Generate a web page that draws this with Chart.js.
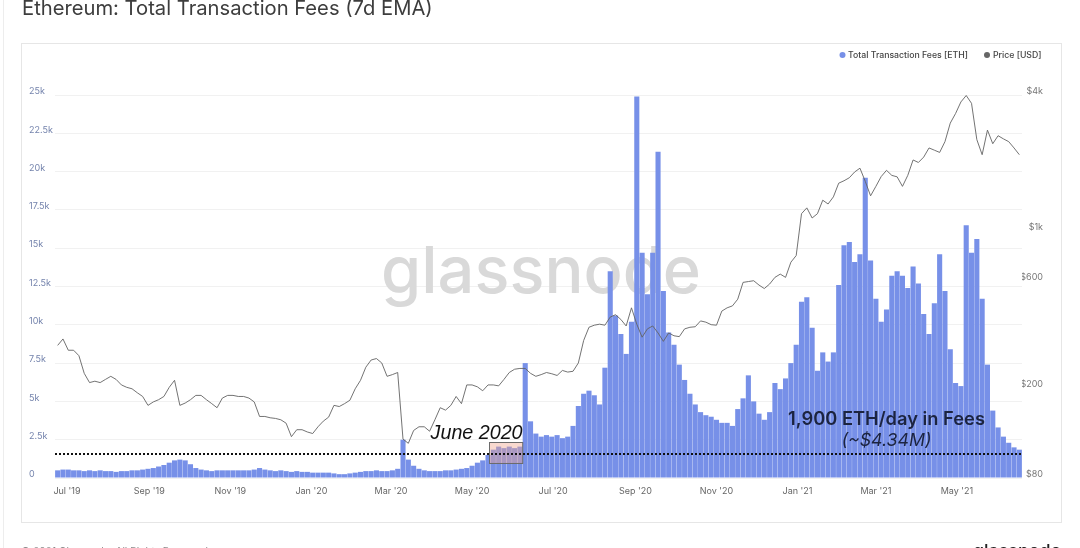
<!DOCTYPE html>
<html>
<head>
<meta charset="utf-8">
<title>Ethereum: Total Transaction Fees (7d EMA)</title>
<script src="https://cdn.jsdelivr.net/npm/chart.js@4.4.0/dist/chart.umd.min.js"></script>
<style>
  html, body { margin: 0; padding: 0; background: #fff; }
  #wrap { position: relative; width: 1080px; height: 548px; }
</style>
</head>
<body>
<div id="wrap"><canvas id="feesChart" width="1080" height="548"></canvas></div>
<script>
// one point every 4 days, starting 24 Jun 2019
const startDate = '2019-06-24';
const stepDays = 4;

// Total Transaction Fees, 7d EMA, in thousands of ETH
const feesK = [
  0.5, 0.55, 0.55, 0.5, 0.5, 0.45, 0.5, 0.45, 0.5, 0.45,
  0.45, 0.4, 0.45, 0.45, 0.5, 0.5, 0.55, 0.6, 0.65, 0.75,
  0.85, 1.0, 1.15, 1.2, 1.15, 0.9, 0.65, 0.55, 0.5, 0.45,
  0.5, 0.5, 0.5, 0.5, 0.5, 0.5, 0.5, 0.55, 0.65, 0.55,
  0.5, 0.45, 0.5, 0.45, 0.4, 0.45, 0.4, 0.4, 0.35, 0.35,
  0.35, 0.35, 0.3, 0.25, 0.25, 0.3, 0.35, 0.4, 0.45, 0.45,
  0.5, 0.45, 0.45, 0.5, 0.6, 2.5, 1.2, 0.8, 0.6, 0.5,
  0.45, 0.45, 0.45, 0.5, 0.5, 0.55, 0.6, 0.65, 0.8, 1.0,
  1.15, 1.5, 1.85, 2.05, 1.95, 2.05, 1.95, 2.05, 7.5, 3.7,
  2.9, 2.7, 2.8, 2.7, 2.8, 2.6, 2.7, 3.4, 4.7, 5.5,
  5.7, 5.4, 4.8, 7.2, 13.5, 10.6, 9.4, 8.1, 10.2, 24.9,
  14.7, 12.0, 14.7, 21.3, 12.2, 9.5, 8.7, 7.4, 6.4, 5.5,
  4.8, 4.3, 4.1, 4.0, 3.8, 3.6, 3.6, 3.4, 4.5, 5.2,
  6.7, 5.0, 4.2, 3.8, 4.3, 6.2, 5.8, 6.5, 7.5, 8.7,
  11.5, 11.8, 9.8, 7.0, 8.2, 7.6, 8.2, 12.6, 15.2, 15.4,
  14.1, 14.6, 19.6, 14.2, 11.7, 10.2, 11.0, 13.2, 13.5, 13.2,
  12.4, 13.8, 12.7, 10.7, 9.4, 11.4, 14.6, 12.2, 8.4, 6.2,
  6.0, 16.5, 14.7, 15.6, 11.7, 7.4, 4.4, 3.3, 2.7, 2.3,
  2.0, 1.85
];

// ETH price in USD (log axis)
const priceUsd = [
  310, 331, 295, 295, 279, 233, 212, 215, 212, 219,
  226, 219, 207, 202, 199, 191, 184, 168, 174, 178,
  184, 202, 217, 168, 172, 178, 186, 186, 178, 171,
  164, 181, 186, 186, 184, 184, 181, 174, 150, 150,
  148, 147, 145, 140, 122, 131, 131, 128, 126, 135,
  143, 149, 168, 166, 171, 177, 199, 217, 248, 267,
  271, 259, 226, 230, 235, 119, 114, 130, 135, 135,
  129, 145, 164, 160, 168, 184, 171, 207, 207, 203,
  195, 207, 207, 205, 219, 235, 243, 245, 245, 233,
  226, 230, 235, 232, 228, 240, 236, 238, 259, 326,
  373, 381, 385, 381, 414, 424, 404, 378, 455, 385,
  337, 367, 378, 352, 323, 352, 342, 339, 367, 373,
  375, 398, 393, 383, 381, 440, 455, 464, 497, 590,
  595, 600, 574, 554, 580, 621, 642, 621, 725, 776,
  1190, 1263, 1139, 1190, 1366, 1314, 1413, 1625, 1666, 1718,
  1822, 1894, 1656, 1428, 1573, 1739, 1853, 1760, 1734, 1573,
  1760, 2060, 2008, 2122, 2329, 2277, 2225, 2484, 3002, 3312,
  3726, 3980, 3674, 2536, 2174, 2795, 2432, 2639, 2556, 2484,
  2329, 2174
];

const monthTicks = ['2019-07-01', '2019-09-01', '2019-11-01', '2020-01-01', '2020-03-01', '2020-05-01',
                    '2020-07-01', '2020-09-01', '2020-11-01', '2021-01-01', '2021-03-01', '2021-05-01'];
const monthLabels = ["Jul '19", "Sep '19", "Nov '19", "Jan '20", "Mar '20", "May '20",
                     "Jul '20", "Sep '20", "Nov '20", "Jan '21", "Mar '21", "May '21"];

const feeTicksK = [0, 2.5, 5, 7.5, 10, 12.5, 15, 17.5, 20, 22.5, 25];
const priceTicks = [80, 200, 600, 1000, 4000];
const priceTickLabels = ['$80', '$200', '$600', '$1k', '$4k'];

// annotations drawn on top (days since startDate / thousands of ETH)
const thresholdK = 1.57;
const juneBoxDays = [325, 350];
const juneBoxK = [0.98, 2.35];

const family = 'Inter, "Noto Sans", sans-serif';

function dayOffset(d) {
  return (Date.parse(d) - Date.parse(startDate)) / 86400000;
}

function fitFont(ctx, text, style, family, width) {
  ctx.font = style + ' 100px ' + family;
  const size = 100 * width / ctx.measureText(text).width;
  return style + ' ' + size.toFixed(2) + 'px ' + family;
}

const pagePlugin = {
  id: 'page',
  beforeDraw(chart) {
    const ctx = chart.ctx;
    ctx.save();
    ctx.fillStyle = '#fff';
    ctx.fillRect(0, 0, chart.width, chart.height);

    // page edge and chart card
    ctx.strokeStyle = '#ededed';
    ctx.lineWidth = 1;
    ctx.beginPath();
    ctx.moveTo(3.5, 0);
    ctx.lineTo(3.5, chart.height);
    ctx.stroke();
    ctx.strokeStyle = '#e6e6e6';
    ctx.strokeRect(21.5, 43.5, 1040, 479);

    // title
    ctx.fillStyle = '#3d3d3d';
    ctx.textBaseline = 'alphabetic';
    ctx.font = fitFont(ctx, 'Ethereum: Total Transaction Fees (7d EMA)', '400', family, 411);
    ctx.fillText('Ethereum: Total Transaction Fees (7d EMA)', 22, 15);

    // footer
    ctx.fillStyle = '#8a8a8a';
    ctx.font = fitFont(ctx, '© 2021 Glassnode. All Rights Reserved.', '400', family, 190);
    ctx.fillText('© 2021 Glassnode. All Rights Reserved.', 21, 555);
    ctx.fillStyle = '#222';
    ctx.font = fitFont(ctx, 'glassnode', '500', family, 88);
    ctx.fillText('glassnode', 973, 557);
    ctx.restore();
  },
  beforeDatasetsDraw(chart) {
    // watermark behind the data
    const ctx = chart.ctx;
    ctx.save();
    ctx.fillStyle = '#d9d9d9';
    ctx.textBaseline = 'alphabetic';
    ctx.font = fitFont(ctx, 'glassnode', '500', family, 320);
    ctx.fillText('glassnode', 381, 293);
    ctx.restore();
  },
  afterDatasetsDraw(chart) {
    const ctx = chart.ctx;
    const { x, y } = chart.scales;
    const area = chart.chartArea;
    ctx.save();

    // June 2020 box
    const bx0 = x.getPixelForValue(juneBoxDays[0]);
    const bx1 = x.getPixelForValue(juneBoxDays[1]);
    const by0 = y.getPixelForValue(juneBoxK[1]);
    const by1 = y.getPixelForValue(juneBoxK[0]);
    ctx.fillStyle = 'rgba(240, 165, 140, 0.42)';
    ctx.fillRect(bx0, by0, bx1 - bx0, by1 - by0);
    ctx.strokeStyle = '#6b6b6b';
    ctx.lineWidth = 1;
    ctx.strokeRect(Math.round(bx0) + 0.5, Math.round(by0) + 0.5, bx1 - bx0, by1 - by0);

    // dotted threshold line
    const ty = Math.round(y.getPixelForValue(thresholdK));
    ctx.strokeStyle = '#111';
    ctx.lineWidth = 2;
    ctx.setLineDash([2, 2]);
    ctx.beginPath();
    ctx.moveTo(area.left, ty);
    ctx.lineTo(area.right, ty);
    ctx.stroke();
    ctx.setLineDash([]);

    // labels
    ctx.textBaseline = 'alphabetic';
    ctx.fillStyle = '#111';
    ctx.textAlign = 'right';
    ctx.font = fitFont(ctx, 'June 2020', 'italic 400', '"Liberation Sans", Arial, sans-serif', 92);
    ctx.fillText('June 2020', bx1, y.getPixelForValue(2.55));

    ctx.fillStyle = '#1c2440';
    ctx.textAlign = 'center';
    ctx.font = fitFont(ctx, '1,900 ETH/day in Fees', '600', family, 197);
    ctx.fillText('1,900 ETH/day in Fees', x.getPixelForValue(624), y.getPixelForValue(3.46));
    ctx.font = fitFont(ctx, '(~$4.34M)', 'italic 400', family, 90);
    ctx.fillText('(~$4.34M)', x.getPixelForValue(624), y.getPixelForValue(2.09));

    // legend
    ctx.textAlign = 'left';
    ctx.textBaseline = 'middle';
    ctx.font = fitFont(ctx, 'Total Transaction Fees [ETH]', '500', family, 120);
    ctx.fillStyle = '#7790e8';
    ctx.beginPath(); ctx.arc(842.5, 55, 3, 0, Math.PI * 2); ctx.fill();
    ctx.fillStyle = '#444';
    ctx.fillText('Total Transaction Fees [ETH]', 848, 55.5);
    ctx.fillStyle = '#666';
    ctx.beginPath(); ctx.arc(987, 55, 3, 0, Math.PI * 2); ctx.fill();
    ctx.fillStyle = '#444';
    ctx.fillText('Price [USD]', 993, 55.5);
    ctx.restore();
  }
};

new Chart(document.getElementById('feesChart'), {
  type: 'bar',
  data: {
    datasets: [
      {
        type: 'line',
        label: 'Price [USD]',
        data: priceUsd.map((v, i) => ({ x: i * stepDays, y: v })),
        yAxisID: 'y1',
        borderColor: '#636363',
        borderWidth: 0.9,
        pointRadius: 0,
        tension: 0,
        order: 0
      },
      {
        label: 'Total Transaction Fees [ETH]',
        data: feesK.map((v, i) => ({ x: i * stepDays, y: v })),
        yAxisID: 'y',
        backgroundColor: '#7790e8',
        borderWidth: 0,
        barPercentage: 0.96,
        categoryPercentage: 1,
        order: 1
      }
    ]
  },
  options: {
    responsive: false,
    animation: false,
    layout: { padding: { left: 29, right: 37, top: 95, bottom: 45 } },
    plugins: {
      legend: { display: false },
      tooltip: { enabled: false }
    },
    scales: {
      x: {
        type: 'linear',
        offset: false,
        min: -2,
        max: (feesK.length - 1) * stepDays + 2,
        afterBuildTicks: (scale) => {
          scale.ticks = monthTicks.map(d => ({ value: dayOffset(d) }));
        },
        afterFit: (scale) => { scale.height = 25; },
        grid: { display: false, drawTicks: false, offset: false },
        border: { display: false },
        ticks: {
          autoSkip: false,
          maxRotation: 0,
          padding: 8,
          color: '#666',
          font: { size: 9, family: family },
          callback: (v, i) => monthLabels[i]
        }
      },
      y: {
        position: 'left',
        min: 0,
        max: 25,
        afterBuildTicks: (scale) => {
          scale.ticks = feeTicksK.map(v => ({ value: v }));
        },
        afterFit: (scale) => { scale.width = 26; },
        grid: { color: '#f1f1f1', drawTicks: false },
        border: { display: false },
        ticks: {
          crossAlign: 'far',
          padding: 0,
          labelOffset: -3.5,
          color: '#7584ad',
          font: { size: 9, family: family },
          callback: (v) => v === 0 ? '0' : v + 'k'
        }
      },
      y1: {
        type: 'logarithmic',
        position: 'right',
        min: 80,
        max: 4000,
        afterBuildTicks: (scale) => {
          scale.ticks = priceTicks.map(v => ({ value: v }));
        },
        afterFit: (scale) => { scale.width = 21; },
        grid: { display: false, drawTicks: false },
        border: { display: false },
        ticks: {
          crossAlign: 'far',
          padding: 0,
          labelOffset: -3.5,
          color: '#777',
          font: { size: 9, family: family },
          callback: (v, i) => priceTickLabels[i]
        }
      }
    }
  },
  plugins: [pagePlugin]
});
</script>
</body>
</html>
